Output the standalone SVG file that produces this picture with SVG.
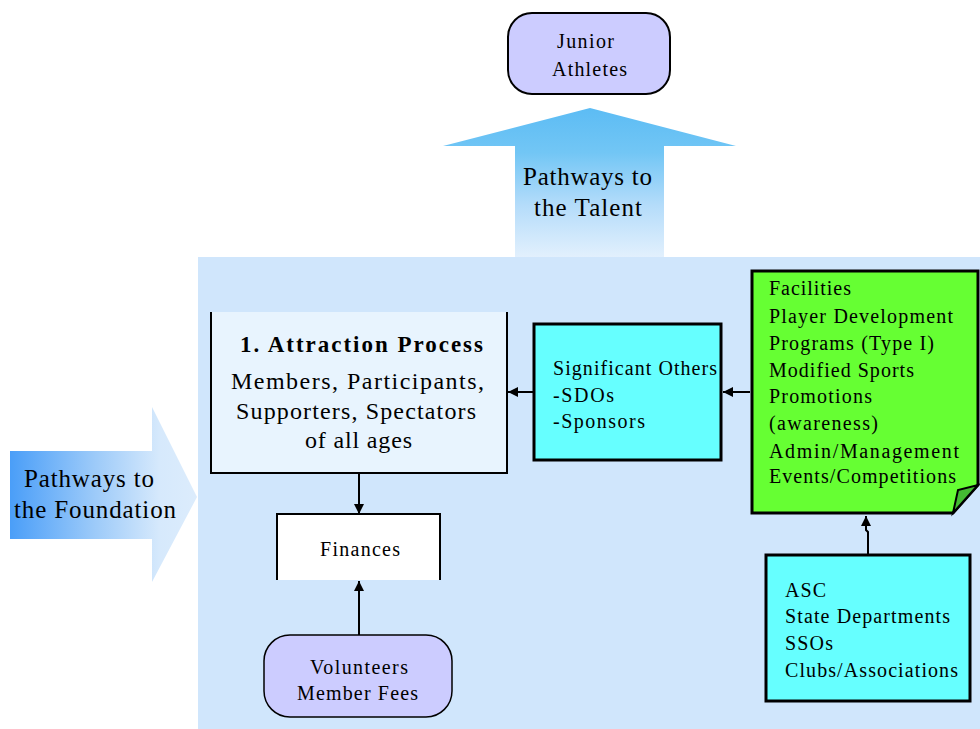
<svg xmlns="http://www.w3.org/2000/svg" width="980" height="729" viewBox="0 0 980 729">
  <defs>
    <linearGradient id="gradUp" gradientUnits="userSpaceOnUse" x1="0" y1="108" x2="0" y2="257">
      <stop offset="0" stop-color="#5cbcf4"/>
      <stop offset="0.3" stop-color="#72c6f5"/>
      <stop offset="0.65" stop-color="#b4dcfa"/>
      <stop offset="1" stop-color="#e2f0fd"/>
    </linearGradient>
    <linearGradient id="gradRight" gradientUnits="userSpaceOnUse" x1="10" y1="0" x2="197" y2="0">
      <stop offset="0" stop-color="#4a9ef8"/>
      <stop offset="0.45" stop-color="#9ccaf9"/>
      <stop offset="0.8" stop-color="#d6e9fc"/>
      <stop offset="1" stop-color="#dcecfc"/>
    </linearGradient>
    <marker id="arrow" viewBox="0 0 10 10" refX="10" refY="5" markerWidth="10" markerHeight="10" markerUnits="userSpaceOnUse" orient="auto">
      <path d="M0,0 L10,5 L0,10 Z" fill="#000"/>
    </marker>
  </defs>
  <style>
    text { font-family: "Liberation Serif", "Times New Roman", serif; fill: #000; }
    .big { font-size: 25px; }
    .body { font-size: 24px; }
    .mid { font-size: 20px; }
    .sm { font-size: 20px; }
    .edge { stroke: #000; stroke-width: 2; fill: none; marker-end: url(#arrow); }
    .box { stroke: #000; stroke-width: 3; }
  </style>

  <!-- background panel -->
  <rect x="198" y="257" width="782" height="472" fill="#d0e6fc"/>

  <!-- large up arrow -->
  <g id="arrow-talent">
    <path d="M515,257 L515,146 L443,146 L590,108 L736,146 L664,146 L664,257 Z" fill="url(#gradUp)"/>
    <text class="big" x="523" y="185" textLength="129" lengthAdjust="spacing">Pathways to</text>
    <text class="big" x="534" y="216" textLength="108" lengthAdjust="spacing">the Talent</text>
  </g>

  <!-- large right arrow -->
  <g id="arrow-foundation">
    <path d="M10,451 L152,451 L152,407 L197,497 L152,582 L152,539 L10,539 Z" fill="url(#gradRight)"/>
    <text class="big" x="24" y="487" textLength="130" lengthAdjust="spacing">Pathways to</text>
    <text class="big" x="14" y="518" textLength="162" lengthAdjust="spacing">the Foundation</text>
  </g>

  <!-- Junior Athletes -->
  <g id="junior-athletes">
    <rect x="508" y="13" width="162" height="81" rx="24" ry="24" fill="#ccccff" stroke="#000" stroke-width="2"/>
    <text class="sm" x="557" y="48" textLength="57" lengthAdjust="spacing">Junior</text>
    <text class="sm" x="552" y="76" textLength="75" lengthAdjust="spacing">Athletes</text>
  </g>

  <!-- connectors -->
  <g id="connectors">
    <line class="edge" x1="533" y1="392" x2="508" y2="392"/>
    <line class="edge" x1="750" y1="392" x2="723" y2="392"/>
    <line class="edge" x1="359" y1="473" x2="359" y2="514"/>
    <line class="edge" x1="359" y1="635" x2="359" y2="581"/>
    <polyline class="edge" points="868,554 868,532 866,530 866,516"/>
  </g>

  <!-- Attraction Process -->
  <g id="attraction">
    <rect x="211" y="312" width="296" height="161" fill="#e8f4fe"/>
    <path d="M211,312 L211,473 L507,473 L507,312" fill="none" stroke="#000" stroke-width="2"/>
    <text x="240" y="352" font-size="23" font-weight="bold" textLength="243" lengthAdjust="spacing">1. Attraction Process</text>
    <text class="body" x="231" y="389" textLength="253" lengthAdjust="spacing">Members, Participants,</text>
    <text class="body" x="236" y="419" textLength="240" lengthAdjust="spacing">Supporters, Spectators</text>
    <text class="body" x="305" y="448" textLength="107" lengthAdjust="spacing">of all ages</text>
  </g>

  <!-- Significant Others -->
  <g id="significant-others">
    <rect class="box" x="534" y="324" width="187" height="136" fill="#66ffff"/>
    <text class="mid" x="553" y="375" textLength="164" lengthAdjust="spacing">Significant Others</text>
    <text class="mid" x="553" y="402" textLength="61" lengthAdjust="spacing">-SDOs</text>
    <text class="mid" x="553" y="428" textLength="92" lengthAdjust="spacing">-Sponsors</text>
  </g>

  <!-- Facilities note -->
  <g id="facilities">
    <path class="box" d="M752,271 L978,271 L978,485 L953,513 L752,513 Z" fill="#66ff33"/>
    <path d="M953,513 L958,490 L978,485 Z" fill="#44bb33" stroke="#000" stroke-width="2"/>
    <text class="mid" x="769" y="295" textLength="82" lengthAdjust="spacing">Facilities</text>
    <text class="mid" x="769" y="323" textLength="184" lengthAdjust="spacing">Player Development</text>
    <text class="mid" x="769" y="350" textLength="165" lengthAdjust="spacing">Programs (Type I)</text>
    <text class="mid" x="769" y="377" textLength="145" lengthAdjust="spacing">Modified Sports</text>
    <text class="mid" x="769" y="403" textLength="103" lengthAdjust="spacing">Promotions</text>
    <text class="mid" x="769" y="430" textLength="109" lengthAdjust="spacing">(awareness)</text>
    <text class="mid" x="769" y="458" textLength="190" lengthAdjust="spacing">Admin/Management</text>
    <text class="mid" x="769" y="483" textLength="187" lengthAdjust="spacing">Events/Competitions</text>
  </g>

  <!-- Funding bodies -->
  <g id="asc">
    <rect class="box" x="766" y="555" width="204" height="146" fill="#66ffff"/>
    <text class="mid" x="785" y="597" textLength="41" lengthAdjust="spacing">ASC</text>
    <text class="mid" x="785" y="623" textLength="165" lengthAdjust="spacing">State Departments</text>
    <text class="mid" x="785" y="650" textLength="48" lengthAdjust="spacing">SSOs</text>
    <text class="mid" x="785" y="677" textLength="173" lengthAdjust="spacing">Clubs/Associations</text>
  </g>

  <!-- Finances -->
  <g id="finances">
    <rect x="277" y="514" width="163" height="66" fill="#ffffff"/>
    <path d="M277,580 L277,514 L440,514 L440,580" fill="none" stroke="#000" stroke-width="2"/>
    <text class="sm" x="320" y="556" textLength="80" lengthAdjust="spacing">Finances</text>
  </g>

  <!-- Volunteers / Member Fees -->
  <g id="volunteers">
    <rect x="264" y="635" width="188" height="82" rx="26" ry="26" fill="#ccccff" stroke="#000" stroke-width="1.5"/>
    <text class="sm" x="310" y="674" textLength="98" lengthAdjust="spacing">Volunteers</text>
    <text class="sm" x="297" y="700" textLength="121" lengthAdjust="spacing">Member Fees</text>
  </g>
</svg>
